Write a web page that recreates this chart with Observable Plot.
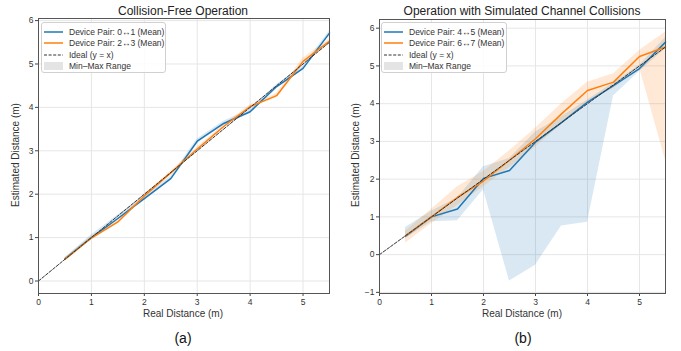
<!DOCTYPE html>
<html>
<head>
<meta charset="utf-8">
<script src="https://cdn.jsdelivr.net/npm/d3@7"></script>
<script src="https://cdn.jsdelivr.net/npm/@observablehq/plot@0.6"></script>
<style>
  html, body { margin: 0; padding: 0; background: #fff; }
  #root { position: relative; width: 681px; height: 351px; overflow: hidden; font-family: "Liberation Sans", Arial, sans-serif; color: #222; }
  .abs { position: absolute; white-space: nowrap; }
  .title { font-size: 12px; transform: translate(-50%, -50%); color: #222; }
  .xlabel { font-size: 10px; transform: translate(-50%, -50%); color: #333; }
  .ylabel { font-size: 10px; transform: translate(-50%, -50%) rotate(-90deg); color: #333; }
  .caption { font-size: 14px; transform: translate(-50%, -50%); color: #111; }
  .legend { border: 1px solid #d0d0d0; border-radius: 3px; background: rgba(255,255,255,0.85); font-size: 8.5px; color: #333; box-sizing: border-box; padding: 3px 0 0 2px; }
  .row { display: flex; align-items: center; height: 11.5px; }
  .sw { width: 19px; margin-right: 6px; flex: none; }
</style>
</head>
<body>
<div id="root"></div>
<script>
// ---- data ----
const distances = [0.5, 1.0, 1.5, 2.0, 2.5, 3.0, 3.5, 4.0, 4.5, 5.0, 5.5];
const xTicks = [0, 1, 2, 3, 4, 5];

// Panel (a): collision-free
const pair01Mean = [0.51, 1.00, 1.44, 1.90, 2.36, 3.22, 3.63, 3.90, 4.48, 4.90, 5.71];
const pair01Min  = [0.48, 0.96, 1.40, 1.86, 2.32, 3.17, 3.58, 3.86, 4.43, 4.86, 5.66];
const pair01Max  = [0.54, 1.06, 1.52, 1.95, 2.41, 3.27, 3.68, 3.95, 4.53, 4.95, 5.76];
const pair23Mean = [0.50, 0.99, 1.36, 1.96, 2.49, 3.04, 3.56, 4.02, 4.27, 5.06, 5.53];
const pair23Min  = [0.47, 0.96, 1.32, 1.92, 2.45, 3.00, 3.52, 3.98, 4.22, 4.98, 5.49];
const pair23Max  = [0.53, 1.03, 1.40, 2.00, 2.53, 3.08, 3.60, 4.06, 4.32, 5.14, 5.57];

// Panel (b): simulated channel collisions
const pair45Mean = [0.49, 1.00, 1.21, 2.02, 2.23, 2.98, 3.50, 4.04, 4.48, 4.93, 5.63];
const pair45Min  = [0.42, 0.87, 0.90, 1.72, -0.70, -0.28, 0.76, 0.86, 4.20, 4.85, 5.45];
const pair45Max  = [0.72, 1.15, 1.50, 2.33, 2.55, 3.25, 3.65, 4.10, 4.55, 5.02, 5.75];
const pair67Mean = [0.50, 1.00, 1.52, 1.95, 2.50, 3.07, 3.73, 4.35, 4.57, 5.25, 5.50];
const pair67Min  = [0.30, 0.82, 1.30, 1.80, 2.30, 2.85, 3.45, 4.05, 4.40, 4.95, 2.50];
const pair67Max  = [0.62, 1.20, 1.80, 2.20, 2.75, 3.35, 4.00, 4.57, 4.79, 5.41, 5.90];

const idealX = [0, 5.5];

const titles = ["Collision-Free Operation", "Operation with Simulated Channel Collisions"];
const captions = ["(a)", "(b)"];
const xLabel = "Real Distance (m)";
const yLabel = "Estimated Distance (m)";
const legendA = ["Device Pair: 0\u21941 (Mean)", "Device Pair: 2\u21943 (Mean)", "Ideal (y = x)", "Min\u2013Max Range"];
const legendB = ["Device Pair: 4\u21945 (Mean)", "Device Pair: 6\u21947 (Mean)", "Ideal (y = x)", "Min\u2013Max Range"];

const BLUE = "#1f77b4", ORANGE = "#ff7f0e";

function rows(mean, mn, mx) {
  return distances.map((d, i) => ({x: d, mean: mean[i], min: mn[i], max: mx[i]}));
}

function panel({a, b, left, width, mL, mR, mT, mB}) {
  const all = [...idealX, ...a.map(r => r.min), ...a.map(r => r.max), ...b.map(r => r.min), ...b.map(r => r.max)];
  const lo = Math.min(...all), hi = Math.max(...all), pad = (hi - lo) * 0.05;
  const yMin = lo - pad, yMax = hi + pad;
  const yTicks = d3.range(Math.ceil(yMin), Math.floor(yMax) + 1);
  const ideal = idealX.map(v => ({x: v, y: v}));
  const fmt = d => d < 0 ? "\u2212" + Math.abs(d) : String(d);
  const p = Plot.plot({
    width, height: 351,
    marginLeft: mL, marginRight: mR, marginTop: mT, marginBottom: mB,
    style: {fontFamily: "'Liberation Sans', Arial, sans-serif", fontSize: "8.5px", color: "#333", background: "transparent"},
    x: {domain: [0, 5.5], label: null},
    y: {domain: [yMin, yMax], label: null},
    marks: [
      Plot.gridX(xTicks, {stroke: "#e6e6e6", strokeOpacity: 1}),
      Plot.gridY(yTicks, {stroke: "#e6e6e6", strokeOpacity: 1}),
      Plot.areaY(a, {x: "x", y1: "min", y2: "max", fill: BLUE, fillOpacity: 0.17}),
      Plot.areaY(b, {x: "x", y1: "min", y2: "max", fill: ORANGE, fillOpacity: 0.17}),
      Plot.line(a, {x: "x", y: "mean", stroke: BLUE, strokeWidth: 1.5}),
      Plot.line(b, {x: "x", y: "mean", stroke: ORANGE, strokeWidth: 1.5}),
      Plot.line(ideal, {x: "x", y: "y", stroke: "#333", strokeWidth: 1, strokeDasharray: "3,1.6"}),
      Plot.axisX(xTicks, {tickSize: 3, tickPadding: 2, tickFormat: fmt, stroke: "#444", fill: "#333"}),
      Plot.axisY(yTicks, {tickSize: 3, tickPadding: 2, tickFormat: fmt, stroke: "#444", fill: "#333"}),
      Plot.frame({stroke: "#555", strokeWidth: 1})
    ]
  });
  p.style.position = "absolute";
  p.style.left = left + "px";
  p.style.top = "0px";
  return p;
}

const root = document.getElementById("root");
root.appendChild(panel({a: rows(pair01Mean, pair01Min, pair01Max), b: rows(pair23Mean, pair23Min, pair23Max), left: 0, width: 340, mL: 38, mR: 11, mT: 18, mB: 58}));
root.appendChild(panel({a: rows(pair45Mean, pair45Min, pair45Max), b: rows(pair67Mean, pair67Min, pair67Max), left: 340, width: 341, mL: 39, mR: 16, mT: 19, mB: 58}));

function text(cls, str, x, y) {
  const d = document.createElement("div");
  d.className = "abs " + cls;
  d.textContent = str;
  d.style.left = x + "px";
  d.style.top = y + "px";
  root.appendChild(d);
}
text("title", titles[0], 183, 10.5);
text("title", titles[1], 522, 10.5);
text("xlabel", xLabel, 183, 312.5);
text("xlabel", xLabel, 522, 312.5);
text("ylabel", yLabel, 15, 155);
text("ylabel", yLabel, 355, 155);
text("caption", captions[0], 183, 338);
text("caption", captions[1], 523, 338);

function legend(labels, x, y, w) {
  const box = document.createElement("div");
  box.className = "abs legend";
  box.style.left = x + "px"; box.style.top = y + "px";
  box.style.width = w + "px"; box.style.height = "51px";
  const sws = [
    `<svg class="sw" width="19" height="4"><line x1="0" x2="19" y1="2" y2="2" stroke="${BLUE}" stroke-width="1.5"/></svg>`,
    `<svg class="sw" width="19" height="4"><line x1="0" x2="19" y1="2" y2="2" stroke="${ORANGE}" stroke-width="1.5"/></svg>`,
    `<svg class="sw" width="19" height="4"><line x1="0" x2="19" y1="2" y2="2" stroke="#333" stroke-width="1" stroke-dasharray="3,1.6"/></svg>`,
    `<svg class="sw" width="19" height="8"><rect width="19" height="8" fill="#e4e4e4"/></svg>`
  ];
  box.innerHTML = labels.map((l, i) => `<div class="row">${sws[i]}<span>${l}</span></div>`).join("");
  root.appendChild(box);
}
legend(legendA, 41, 22, 125);
legend(legendB, 381, 22, 126);
</script>
</body>
</html>
